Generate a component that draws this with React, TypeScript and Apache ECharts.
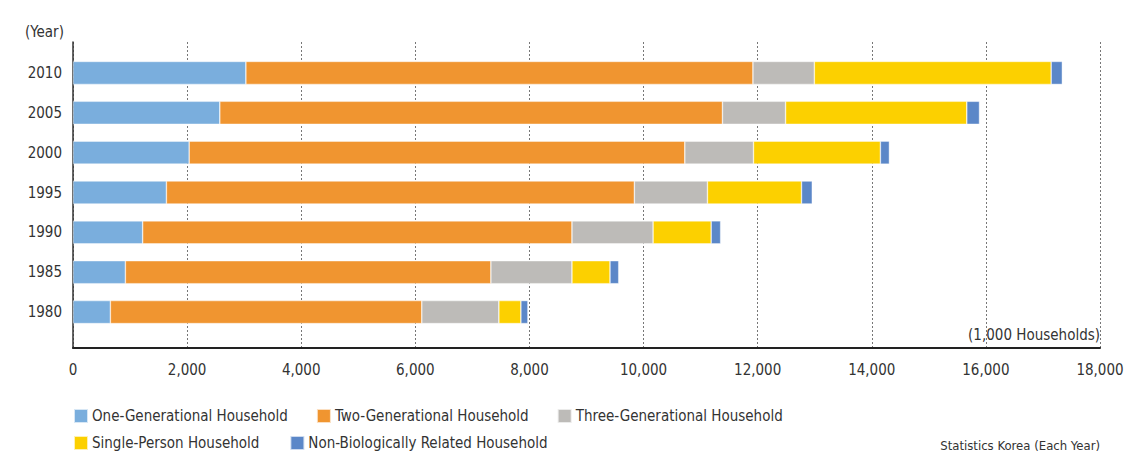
import React, { useEffect, useRef } from "react";
import * as echarts from "echarts";

const years = ["1980", "1985", "1990", "1995", "2000", "2005", "2010"];
const oneGen = [655, 918, 1221, 1637, 2036, 2573, 3030];
const twoGen = [5458, 6406, 7524, 8202, 8687, 8810, 8887];
const threeGen = [1351, 1421, 1422, 1281, 1204, 1106, 1076];
const singlePerson = [386, 667, 1018, 1649, 2224, 3176, 4151];
const nonBio = [123, 153, 166, 188, 158, 223, 196];
const xTicks = { min: 0, max: 18000, interval: 2000 };

const seriesNames = [
  "One-Generational Household",
  "Two-Generational Household",
  "Three-Generational Household",
  "Single-Person Household",
  "Non-Biologically Related Household",
];
const colors = ["#7aaedd", "#f09530", "#bdbbb8", "#fcd000", "#5b87c8"];
const FONT = "'Liberation Sans Narrow', 'DejaVu Sans Condensed', 'Roboto', sans-serif";

export default function App() {
  const ref = useRef<HTMLDivElement>(null);
  useEffect(() => {
    document.body.style.margin = "0";
    const chart = echarts.init(ref.current!, null, { renderer: "svg" });
    const datasets = [oneGen, twoGen, threeGen, singlePerson, nonBio];
    chart.setOption({
      animation: false,
      textStyle: { fontFamily: FONT },
      color: colors,
      grid: [
        { left: 73, right: 44, top: 42, bottom: 110 },
        { left: 73, right: 44, top: 53, height: 279 },
      ],
      xAxis: [
        {
          gridIndex: 0,
          type: "value",
          min: xTicks.min,
          max: xTicks.max,
          interval: xTicks.interval,
          axisLine: { show: true, lineStyle: { color: "#222", width: 2 } },
          axisTick: { show: false },
          axisLabel: {
            margin: 14,
            fontSize: 15,
            color: "#333",
            fontFamily: FONT,
            formatter: (v: number) => v.toLocaleString("en-US"),
          },
          splitLine: {
            show: true,
            lineStyle: { color: "#777", width: 1, type: [2, 2] },
          },
        },
        {
          gridIndex: 1,
          type: "value",
          min: xTicks.min,
          max: xTicks.max,
          show: false,
          splitLine: { show: false },
        },
      ],
      yAxis: [
        {
          gridIndex: 0,
          type: "value",
          min: 0,
          max: 1,
          axisLine: { show: true, lineStyle: { color: "#333", width: 1.5 } },
          axisTick: { show: false },
          axisLabel: { show: false },
          splitLine: { show: false },
        },
        {
          gridIndex: 1,
          type: "category",
          data: years,
          axisLine: { show: false },
          axisTick: { show: false },
          axisLabel: { margin: 11, fontSize: 15, color: "#333", fontFamily: FONT },
        },
      ],
      legend: [
        {
          left: 73,
          top: 408,
          padding: 0,
          itemWidth: 14,
          itemHeight: 14,
          itemGap: 28,
          icon: "rect",
          data: seriesNames.slice(0, 3),
          textStyle: { fontSize: 15, color: "#333", fontFamily: FONT, padding: [0, 0, 0, -1] },
        },
        {
          left: 73,
          top: 435,
          padding: 0,
          itemWidth: 14,
          itemHeight: 14,
          itemGap: 30,
          icon: "rect",
          data: seriesNames.slice(3),
          textStyle: { fontSize: 15, color: "#333", fontFamily: FONT, padding: [0, 0, 0, -1] },
        },
      ],
      graphic: [
        {
          type: "text",
          left: 25,
          top: 24,
          style: { text: "(Year)", fontSize: 15, fill: "#333", fontFamily: FONT },
        },
        {
          type: "text",
          right: 44,
          top: 327,
          style: { text: "(1,000 Households)", fontSize: 15, fill: "#333", fontFamily: FONT },
        },
        {
          type: "text",
          right: 44,
          top: 439,
          style: { text: "Statistics Korea (Each Year)", fontSize: 13, fill: "#333", fontFamily: FONT },
        },
      ],
      series: seriesNames.map((name, i) => ({
        name,
        type: "bar",
        stack: "total",
        xAxisIndex: 1,
        yAxisIndex: 1,
        barWidth: 23,
        data: datasets[i],
        itemStyle: { color: colors[i], borderColor: "rgba(255,255,255,0.7)", borderWidth: 0.6 },
      })),
    });
    return () => chart.dispose();
  }, []);
  return <div ref={ref} style={{ width: 1144, height: 458 }} />;
}
